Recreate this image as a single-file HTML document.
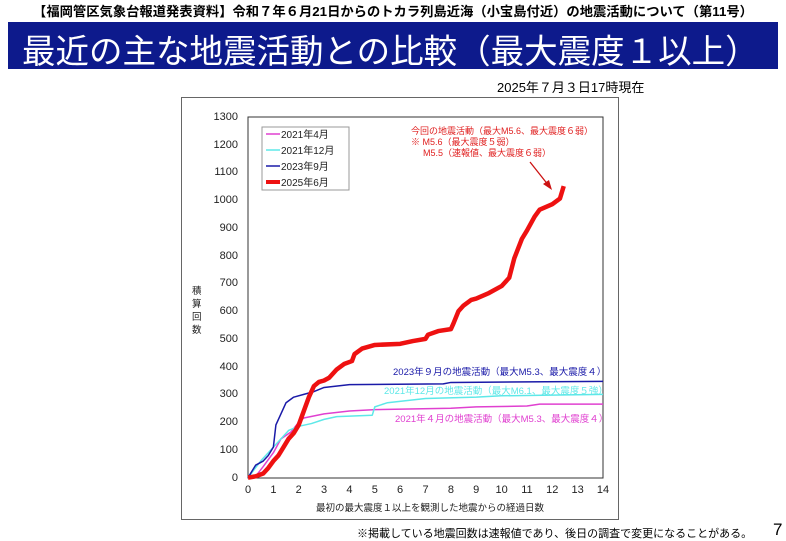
<!DOCTYPE html>
<html><head><meta charset="utf-8"><style>
body{margin:0;width:786px;height:540px;background:#fff;position:relative;overflow:hidden;font-family:"Liberation Sans","Noto Sans CJK JP",sans-serif}
.t{position:absolute;white-space:nowrap}
</style></head><body>
<div class="t" style="left:0;width:786px;text-align:center;top:1px;font-size:13.3px;font-weight:bold">【福岡管区気象台報道発表資料】令和７年６月21日からのトカラ列島近海（小宝島付近）の地震活動について（第11号）</div>
<div style="position:absolute;left:8px;top:22px;width:770px;height:47px;background:#0d1a8c"></div>
<div class="t" style="left:22px;top:24px;font-size:33.5px;color:#fff">最近の主な地震活動との比較（最大震度１以上）</div>
<div class="t" style="left:497px;top:77px;font-size:13px">2025年７月３日17時現在</div>
<div style="position:absolute;left:181px;top:97px;width:438px;height:423px;border:1.5px solid #666;box-sizing:border-box"></div>
<svg style="position:absolute;left:0;top:0" width="786" height="540">
<rect x="248" y="117" width="355" height="361" fill="none" stroke="#333" stroke-width="1"/>
<g font-size="11" font-family="Liberation Sans,sans-serif" fill="#222" text-anchor="end">
<text x="238" y="481">0</text><text x="238" y="453">100</text><text x="238" y="425">200</text><text x="238" y="397">300</text><text x="238" y="370">400</text><text x="238" y="342">500</text><text x="238" y="314">600</text><text x="238" y="286">700</text><text x="238" y="259">800</text><text x="238" y="231">900</text><text x="238" y="203">1000</text><text x="238" y="175">1100</text><text x="238" y="148">1200</text><text x="238" y="120">1300</text>
</g>
<g font-size="11" font-family="Liberation Sans,sans-serif" fill="#222" text-anchor="middle">
<text x="248" y="493">0</text><text x="273.4" y="493">1</text><text x="298.7" y="493">2</text><text x="324.1" y="493">3</text><text x="349.4" y="493">4</text><text x="374.8" y="493">5</text><text x="400.1" y="493">6</text><text x="425.5" y="493">7</text><text x="450.9" y="493">8</text><text x="476.2" y="493">9</text><text x="501.6" y="493">10</text><text x="526.9" y="493">11</text><text x="552.3" y="493">12</text><text x="577.6" y="493">13</text><text x="603" y="493">14</text>
</g>
<g transform="translate(248,477.7) scale(25.36,-0.2777)" fill="none" stroke-linejoin="round">
<polyline vector-effect="non-scaling-stroke" stroke="#e040d0" stroke-width="1.5" points="0,0 0.3,5 0.6,40 1,90 1.3,140 1.7,165 2,200 2.2,215 3,230 4,240 5,245 8,250 9,255 11,258 11.5,265 14,265"/>
<polyline vector-effect="non-scaling-stroke" stroke="#5ee8e8" stroke-width="1.5" points="0,0 0.5,60 0.8,90 1.2,130 1.6,170 2,185 2.5,195 3,210 3.5,220 4.9,225 5,255 5.5,270 7,285 9,290 10,295 14,300"/>
<polyline vector-effect="non-scaling-stroke" stroke="#1a1aa8" stroke-width="1.5" points="0,0 0.3,45 0.6,60 0.8,80 1,110 1.1,190 1.3,230 1.5,270 1.8,290 2.2,300 2.6,310 3,325 4,335 7.7,338 8,343 14,347"/>
<polyline vector-effect="non-scaling-stroke" stroke="#ee1111" stroke-width="4.5" points="0,0 0.3,5 0.6,15 0.8,35 1,60 1.2,80 1.4,110 1.6,140 1.8,160 2,190 2.2,240 2.4,290 2.6,330 2.8,345 3,350 3.2,360 3.5,390 3.8,410 4.1,420 4.2,445 4.5,465 5,478 6,482 6.5,492 7,500 7.1,515 7.5,528 8,535 8.1,555 8.3,600 8.5,620 8.8,640 9,645 9.5,665 10,690 10.3,720 10.5,790 10.8,860 11,890 11.3,940 11.5,965 12,985 12.3,1005 12.35,1020 12.45,1050"/>
</g>
<rect x="262" y="127" width="87" height="63" fill="#fff" stroke="#999"/>
<line x1="266" y1="134" x2="280" y2="134" stroke="#e040d0" stroke-width="1.5"/>
<line x1="266" y1="150" x2="280" y2="150" stroke="#5ee8e8" stroke-width="1.5"/>
<line x1="266" y1="166" x2="280" y2="166" stroke="#1a1aa8" stroke-width="1.5"/>
<line x1="266" y1="182" x2="280" y2="182" stroke="#ee1111" stroke-width="4"/>
<g font-size="10" fill="#222" font-family="Liberation Sans,Noto Sans CJK JP,sans-serif">
<text x="281" y="138">2021年4月</text><text x="281" y="154">2021年12月</text><text x="281" y="170">2023年9月</text><text x="281" y="186">2025年6月</text>
</g>
<g font-size="9" fill="#e02020" font-family="Liberation Sans,Noto Sans CJK JP,sans-serif">
<text x="411" y="134">今回の地震活動（最大M5.6、最大震度６弱）</text>
<text x="411" y="145">※ M5.6（最大震度５弱）</text>
<text x="423" y="156">M5.5（速報値、最大震度６弱）</text>
</g>
<line x1="530" y1="162" x2="549" y2="186" stroke="#cc1111" stroke-width="1.3"/>
<polygon points="552,190 543,184 549,180" fill="#cc1111"/>
<g font-size="9.5" font-family="Liberation Sans,Noto Sans CJK JP,sans-serif">
<text x="393" y="375" fill="#1a1aa8">2023年９月の地震活動（最大M5.3、最大震度４）</text>
<text x="384" y="394" fill="#5ee8e8">2021年12月の地震活動（最大M6.1、最大震度５強）</text>
<text x="395" y="422" fill="#e040d0">2021年４月の地震活動（最大M5.3、最大震度４）</text>
<text x="316" y="511" fill="#222">最初の最大震度１以上を観測した地震からの経過日数</text>
<text x="192" y="294" fill="#222">積</text><text x="192" y="307" fill="#222">算</text><text x="192" y="320" fill="#222">回</text><text x="192" y="333" fill="#222">数</text>
</g>
</svg>
<div class="t" style="left:357px;top:525px;font-size:11px">※掲載している地震回数は速報値であり、後日の調査で変更になることがある。</div>
<div class="t" style="left:773px;top:520px;font-size:17px">7</div>
</body></html>
